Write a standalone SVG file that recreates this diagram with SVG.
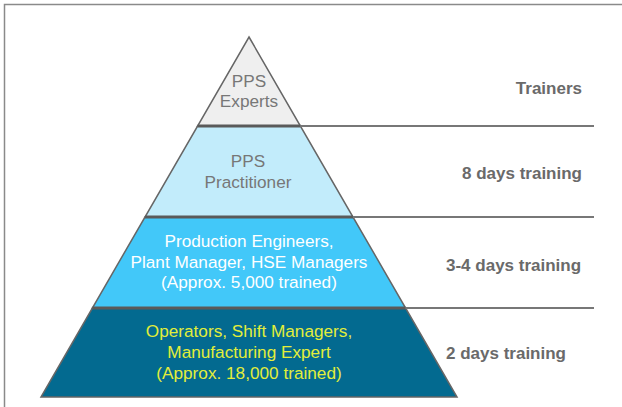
<svg xmlns="http://www.w3.org/2000/svg" width="622" height="407" viewBox="0 0 622 407">
<style>
.frame{stroke:#8a8a8a;stroke-width:1.5;fill:none}
.layer{stroke:#666;stroke-width:1.5;stroke-linejoin:miter}
.sep{stroke:#5a5a5a;stroke-width:3}
.guide{stroke:#777;stroke-width:2}
.pt{font-family:"Liberation Sans",Arial,sans-serif;font-size:17.2px;text-anchor:middle}
.lbl{font-family:"Liberation Sans",Arial,sans-serif;font-size:17px;font-weight:bold;fill:#6a6a6a}
</style>
<rect x="0" y="0" width="622" height="407" fill="#fff"/>
<path class="frame" d="M4.5,407 V4.5 H622"/>
<g id="experts">
<polygon class="layer" fill="#efefef" points="249,37 300.4,126 197.6,126"/>
<text class="pt" fill="#777" x="249" y="87">PPS</text>
<text class="pt" fill="#777" x="249" y="107">Experts</text>
</g>
<g id="practitioner">
<polygon class="layer" fill="#c2ecfb" points="197.6,126 300.4,126 353,217 145,217"/>
<text class="pt" fill="#777" x="248" y="167">PPS</text>
<text class="pt" fill="#777" x="248" y="188">Practitioner</text>
</g>
<g id="engineers">
<polygon class="layer" fill="#42c8f9" points="145,217 353,217 405.6,308 92.4,308"/>
<text class="pt" fill="#fff" x="249" y="247">Production Engineers,</text>
<text class="pt" fill="#fff" x="249" y="268">Plant Manager, HSE Managers</text>
<text class="pt" fill="#fff" x="249" y="288">(Approx. 5,000 trained)</text>
</g>
<g id="operators">
<polygon class="layer" fill="#036a90" points="92.4,308 405.6,308 457,397 41,397"/>
<text class="pt" fill="#e2ee3a" x="249" y="337">Operators, Shift Managers,</text>
<text class="pt" fill="#e2ee3a" x="249" y="358">Manufacturing Expert</text>
<text class="pt" fill="#e2ee3a" x="249" y="379">(Approx. 18,000 trained)</text>
</g>
<g id="connectors">
<line class="sep" x1="197.6" y1="126" x2="300.4" y2="126"/>
<line class="sep" x1="145" y1="217" x2="353" y2="217"/>
<line class="sep" x1="92.4" y1="308" x2="405.6" y2="308"/>
<line class="guide" x1="300.4" y1="126" x2="594" y2="126"/>
<line class="guide" x1="353" y1="217" x2="594" y2="217"/>
<line class="guide" x1="405.6" y1="308" x2="594" y2="308"/>
</g>
<g id="labels">
<text class="lbl" x="582" y="94" text-anchor="end">Trainers</text>
<text class="lbl" x="582" y="179" text-anchor="end">8 days training</text>
<text class="lbl" x="446" y="271">3-4 days training</text>
<text class="lbl" x="446" y="359">2 days training</text>
</g>
</svg>
